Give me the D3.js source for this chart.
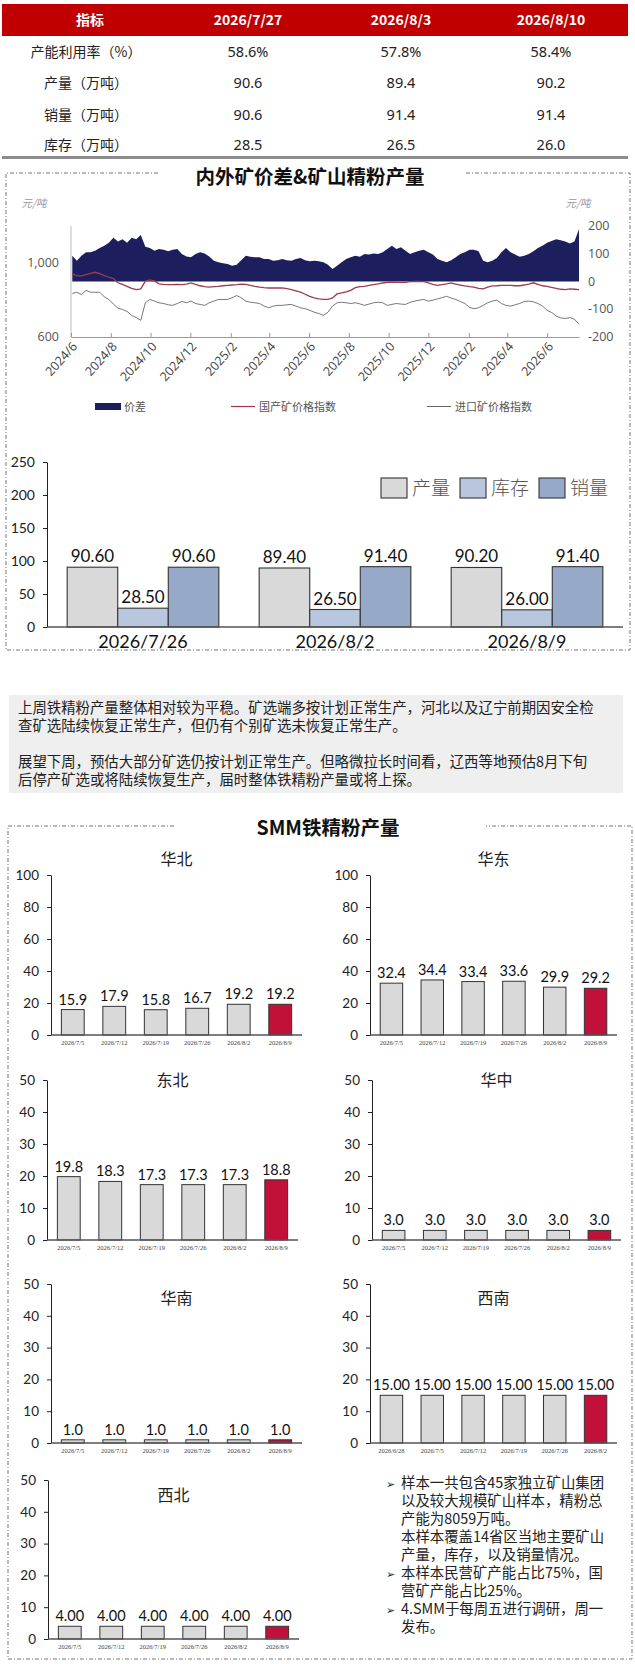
<!DOCTYPE html>
<html>
<head>
<meta charset="UTF-8" />
<script src="https://cdn.jsdelivr.net/npm/d3@7"></script>
<title>铁精粉周报</title>
<style>
  body { margin: 0; background: #fff; }
  svg { display: block; }
</style>
</head>
<body>
<svg id="page"></svg>
<script>
// ---- table ----
const tableHeader = ['指标', '2026/7/27', '2026/8/3', '2026/8/10'];
const tableRows = ['产能利用率（%）', '产量（万吨）', '销量（万吨）', '库存（万吨）'];
const capacityUse = ['58.6%', '57.8%', '58.4%'];
const outputWeek = [90.6, 89.4, 90.2];
const salesWeek = [90.6, 91.4, 91.4];
const stockWeek = [28.5, 26.5, 26.0];

// ---- spread chart, weekly from 2024-06-03 ----
const spreadStart = new Date(2024, 5, 3);
const spreadValues = [93, 75, 93, 105, 105, 111, 121, 129, 140, 158, 144, 152, 140, 158, 152, 168,
  125, 121, 111, 117, 114, 109, 114, 117, 99, 90, 87, 99, 105, 101, 90, 75, 69, 66, 63, 57, 60, 77,
  93, 89, 87, 87, 81, 81, 75, 77, 81, 77, 75, 81, 85, 77, 73, 75, 73, 69, 60, 45, 57, 69, 81, 87,
  93, 89, 99, 97, 101, 99, 105, 117, 129, 117, 123, 111, 99, 105, 111, 114, 105, 97, 81, 75, 69,
  77, 87, 99, 105, 114, 114, 109, 75, 69, 75, 85, 105, 121, 105, 97, 89, 93, 99, 109, 121, 129,
  140, 146, 152, 149, 144, 137, 144, 188];
const domesticIndex = [941, 930, 930, 937, 944, 950, 943, 932, 923, 916, 893, 884, 874, 863, 856,
  860, 902, 909, 903, 887, 884, 883, 883, 884, 883, 886, 892, 884, 877, 872, 870, 872, 874, 877,
  879, 881, 883, 886, 884, 879, 874, 870, 867, 865, 865, 865, 865, 861, 856, 849, 842, 831, 820,
  811, 806, 803, 803, 811, 833, 838, 844, 852, 867, 872, 874, 879, 883, 887, 892, 895, 897, 895,
  895, 895, 899, 900, 900, 899, 893, 884, 879, 883, 887, 892, 886, 881, 876, 872, 870, 863, 860,
  870, 876, 877, 879, 879, 879, 877, 877, 881, 886, 893, 884, 877, 874, 868, 863, 858, 856, 860,
  858, 856];
const importIndex = [835, 842, 829, 852, 842, 842, 842, 817, 803, 778, 756, 749, 738, 717, 705,
  690, 785, 803, 794, 785, 781, 774, 771, 781, 792, 785, 794, 781, 776, 771, 785, 794, 803, 803,
  803, 812, 824, 812, 794, 788, 785, 781, 767, 758, 767, 771, 771, 774, 776, 767, 758, 753, 745,
  734, 727, 717, 734, 767, 785, 788, 785, 781, 785, 779, 771, 778, 785, 788, 785, 771, 776, 781,
  778, 776, 788, 794, 799, 803, 794, 799, 806, 813, 820, 810, 803, 792, 781, 760, 753, 758, 771,
  785, 794, 799, 781, 771, 767, 774, 781, 792, 794, 790, 781, 767, 745, 732, 714, 703, 700, 705,
  696, 669];
const leftTicks = [600, 1000];
const rightTicks = [-200, -100, 0, 100, 200];
const spreadLegend = ['价差', '国产矿价格指数', '进口矿价格指数'];

// ---- weekly bar chart ----
const barDates = ['2026/7/26', '2026/8/2', '2026/8/9'];
const barSeries = ['产量', '库存', '销量'];
const barOutput = [90.6, 89.4, 90.2];
const barStock = [28.5, 26.5, 26.0];
const barSales = [90.6, 91.4, 91.4];

// ---- regional panels ----
const regionWeeks = ['2026/7/5', '2026/7/12', '2026/7/19', '2026/7/26', '2026/8/2', '2026/8/9'];
const southwestWeeks = ['2026/6/28', '2026/7/5', '2026/7/12', '2026/7/19', '2026/7/26', '2026/8/2'];
const huabei = [15.9, 17.9, 15.8, 16.7, 19.2, 19.2];
const huadong = [32.4, 34.4, 33.4, 33.6, 29.9, 29.2];
const dongbei = [19.8, 18.3, 17.3, 17.3, 17.3, 18.8];
const huazhong = [3.0, 3.0, 3.0, 3.0, 3.0, 3.0];
const huanan = [1.0, 1.0, 1.0, 1.0, 1.0, 1.0];
const xinan = [15, 15, 15, 15, 15, 15];
const xibei = [4, 4, 4, 4, 4, 4];

const commentLines = [
  '上周铁精粉产量整体相对较为平稳。矿选端多按计划正常生产，河北以及辽宁前期因安全检',
  '查矿选陆续恢复正常生产，但仍有个别矿选未恢复正常生产。',
  '',
  '展望下周，预估大部分矿选仍按计划正常生产。但略微拉长时间看，辽西等地预估8月下旬',
  '后停产矿选或将陆续恢复生产，届时整体铁精粉产量或将上探。'
];
const noteLines = [
  ['➢', '样本一共包含45家独立矿山集团'],
  ['', '以及较大规模矿山样本，精粉总'],
  ['', '产能为8059万吨。'],
  ['', '本样本覆盖14省区当地主要矿山'],
  ['', '产量，库存，以及销量情况。'],
  ['➢', '本样本民营矿产能占比75%，国'],
  ['', '营矿产能占比25%。'],
  ['➢', '4.SMM于每周五进行调研，周一'],
  ['', '发布。']
];

const CJK = '"Noto Sans CJK SC", "Noto Sans", sans-serif';
const NUM = 'Lato, "Noto Sans", sans-serif';
const svg = d3.select('#page').attr('width', 635).attr('height', 1664);

// ================= table =================
svg.append('rect').attr('x', 2).attr('y', 4).attr('width', 626).attr('height', 32).attr('fill', '#c00000');
const colX = [90, 248, 401, 551];
svg.selectAll('.th').data(tableHeader).enter().append('text')
  .attr('x', (d, i) => colX[i]).attr('y', 25).attr('text-anchor', 'middle')
  .attr('fill', '#fff').attr('font-weight', 'bold').attr('font-size', 14)
  .style('font-family', CJK).text(d => d);
const rowVals = [capacityUse, outputWeek.map(d => d.toFixed(1)), salesWeek.map(d => d.toFixed(1)), stockWeek.map(d => d.toFixed(1))];
const rowY = [57, 88, 120, 150];
tableRows.forEach((lab, r) => {
  svg.append('text').attr('x', 86).attr('y', rowY[r]).attr('text-anchor', 'middle')
    .attr('font-size', 14).attr('fill', '#222').style('font-family', CJK).text(lab);
  rowVals[r].forEach((v, c) => {
    svg.append('text').attr('x', colX[c + 1]).attr('y', rowY[r]).attr('text-anchor', 'middle')
      .attr('font-size', 14.5).attr('fill', '#222').style('font-family', '"Noto Sans", sans-serif').text(v);
  });
});
svg.append('rect').attr('x', 2).attr('y', 156).attr('width', 626).attr('height', 3).attr('fill', '#8c8c8c');

// dash-dot frames with the title cut into the top edge
function frame(x0, x1, y0, y1, gapL, gapR) {
  svg.append('path')
    .attr('d', `M${gapL},${y0}H${x0}V${y1}H${x1}V${y0}H${gapR}`)
    .attr('fill', 'none').attr('stroke', '#777').attr('stroke-width', 1)
    .attr('stroke-dasharray', '4,2,1,2');
}
frame(6, 630, 173, 650, 158, 466);
svg.append('text').attr('x', 310).attr('y', 184).attr('text-anchor', 'middle')
  .attr('font-size', 19.5).attr('font-weight', 'bold').attr('fill', '#111')
  .style('font-family', CJK).text('内外矿价差&矿山精粉产量');

// ================= spread chart =================
const spreadDates = spreadValues.map((_, i) => d3.timeWeek.offset(spreadStart, i));
const xT = d3.scaleTime().domain([new Date(2024, 5, 1), new Date(2026, 6, 20)]).range([71, 579]);
const yL = d3.scaleLinear().domain([600, 1200]).range([337, 226]);
const yR = d3.scaleLinear().domain([-200, 200]).range([337, 226]);

svg.append('path').datum(spreadValues)
  .attr('d', d3.area().x((d, i) => xT(spreadDates[i])).y0(yR(0)).y1(d => yR(d)))
  .attr('fill', '#1d1e5d');
svg.append('path').datum(domesticIndex)
  .attr('d', d3.line().x((d, i) => xT(spreadDates[i])).y(d => yL(d)))
  .attr('fill', 'none').attr('stroke', '#9b3c4c').attr('stroke-width', 1.3);
svg.append('path').datum(importIndex)
  .attr('d', d3.line().x((d, i) => xT(spreadDates[i])).y(d => yL(d)))
  .attr('fill', 'none').attr('stroke', '#555').attr('stroke-width', 0.8);

svg.append('line').attr('x1', 71).attr('x2', 71).attr('y1', 226).attr('y2', 337).attr('stroke', '#aaa').attr('stroke-width', 0.8);
const xAx = svg.append('g').attr('transform', 'translate(0,337)')
  .call(d3.axisBottom(xT)
    .tickValues(d3.timeMonth.range(new Date(2024, 5, 1), new Date(2026, 6, 2), 2))
    .tickFormat(d3.timeFormat('%Y/%-m')).tickSizeInner(-4).tickSizeOuter(0));
xAx.select('.domain').attr('stroke', '#999');
xAx.selectAll('.tick line').attr('stroke', '#999');
xAx.selectAll('text').attr('text-anchor', 'end').attr('x', -3).attr('y', 7).attr('dy', '0.35em')
  .attr('transform', 'rotate(-48)').attr('font-size', 12.5).attr('fill', '#444').style('font-family', '"Open Sans", sans-serif');

svg.selectAll('.lt').data(leftTicks).enter().append('text')
  .attr('x', 59).attr('y', d => yL(d) + 4).attr('text-anchor', 'end')
  .attr('font-size', 12.5).attr('fill', '#555').style('font-family', '"Open Sans", sans-serif')
  .text(d3.format(','));
svg.selectAll('.rt').data(rightTicks).enter().append('text')
  .attr('x', 588).attr('y', d => yR(d) + 4)
  .attr('font-size', 12.5).attr('fill', '#555').style('font-family', '"Open Sans", sans-serif')
  .text(d => d);
svg.append('text').attr('x', 34).attr('y', 207).attr('text-anchor', 'middle').attr('font-size', 10.5)
  .attr('font-style', 'italic').attr('fill', '#999').style('font-family', CJK).text('元/吨');
svg.append('text').attr('x', 578).attr('y', 207).attr('text-anchor', 'middle').attr('font-size', 10.5)
  .attr('font-style', 'italic').attr('fill', '#999').style('font-family', CJK).text('元/吨');

// legend
svg.append('rect').attr('x', 95).attr('y', 403).attr('width', 26).attr('height', 7).attr('fill', '#1d1e5d');
svg.append('line').attr('x1', 231).attr('x2', 255).attr('y1', 406.5).attr('y2', 406.5).attr('stroke', '#9b3c4c').attr('stroke-width', 1.2);
svg.append('line').attr('x1', 427).attr('x2', 451).attr('y1', 406.5).attr('y2', 406.5).attr('stroke', '#666').attr('stroke-width', 1);
svg.selectAll('.sl').data(spreadLegend).enter().append('text')
  .attr('x', (d, i) => [124, 259, 455][i]).attr('y', 411)
  .attr('font-size', 11).attr('fill', '#555').style('font-family', CJK).text(d => d);

// ================= weekly bars =================
const barFill = ['#d9d9d9', '#b9c7de', '#97a9c9'];
const barVals = [barOutput, barStock, barSales];
const xB = d3.scaleBand().domain(barDates).range([47, 623]).paddingInner(0.21).paddingOuter(0.105);
const xS = d3.scaleBand().domain(barSeries).range([0, xB.bandwidth()]);
const yB = d3.scaleLinear().domain([0, 250]).range([627, 462]);

const yAxB = svg.append('g').attr('transform', 'translate(47,0)')
  .call(d3.axisLeft(yB).tickValues([0, 50, 100, 150, 200, 250]).tickSizeInner(4).tickSizeOuter(0).tickPadding(8));
yAxB.select('.domain').attr('stroke', '#222');
yAxB.selectAll('.tick line').attr('stroke', '#222');
yAxB.selectAll('text').attr('font-size', 14).attr('fill', '#222').style('font-family', NUM);

barDates.forEach((d, gi) => {
  barSeries.forEach((s, si) => {
    const v = barVals[si][gi];
    svg.append('rect').attr('x', xB(d) + xS(s)).attr('y', yB(v))
      .attr('width', xS.bandwidth()).attr('height', yB(0) - yB(v))
      .attr('fill', barFill[si]).attr('stroke', '#333').attr('stroke-width', 1.1);
    svg.append('text').attr('x', xB(d) + xS(s) + xS.bandwidth() / 2).attr('y', yB(v) - 5)
      .attr('text-anchor', 'middle').attr('font-size', 17).attr('fill', '#111')
      .style('font-family', NUM).text(v.toFixed(2));
  });
});
svg.append('line').attr('x1', 47).attr('x2', 623).attr('y1', 627).attr('y2', 627).attr('stroke', '#555').attr('stroke-width', 1.5);
svg.selectAll('.bx').data(barDates).enter().append('text')
  .attr('x', d => xB(d) + xB.bandwidth() / 2).attr('y', 648).attr('text-anchor', 'middle')
  .attr('font-size', 18).attr('fill', '#111').style('font-family', NUM).text(d => d);

// legend
const legX = [381, 460, 539];
barSeries.forEach((s, i) => {
  svg.append('rect').attr('x', legX[i]).attr('y', 478).attr('width', 26).attr('height', 20)
    .attr('fill', barFill[i]).attr('stroke', '#333').attr('stroke-width', 1.1);
  svg.append('text').attr('x', legX[i] + 31).attr('y', 495).attr('font-size', 19)
    .attr('font-weight', 300).attr('fill', '#555').style('font-family', CJK).text(s);
});

// ================= comment box =================
svg.append('rect').attr('x', 9).attr('y', 695).attr('width', 614).attr('height', 98).attr('fill', '#efefef');
svg.selectAll('.cm').data(commentLines).enter().append('text')
  .attr('x', 18).attr('y', (d, i) => 713 + i * 18).attr('font-size', 14.4)
  .attr('fill', '#222').style('font-family', CJK).text(d => d);

// ================= SMM regional panels =================
frame(8, 632, 826, 1659, 174, 486);
svg.append('text').attr('x', 328).attr('y', 835).attr('text-anchor', 'middle')
  .attr('font-size', 19.5).attr('font-weight', 'bold').attr('fill', '#111')
  .style('font-family', CJK).text('SMM铁精粉产量');

const panels = [
  { name: '华北', cats: regionWeeks, vals: huabei, dec: 1, ax: 51, end: 302, top: 875, bottom: 1035, max: 100, step: 20, ty: 865 },
  { name: '华东', cats: regionWeeks, vals: huadong, dec: 1, ax: 370, end: 617, top: 875, bottom: 1035, max: 100, step: 20, ty: 865 },
  { name: '东北', cats: regionWeeks, vals: dongbei, dec: 1, ax: 47, end: 298, top: 1080, bottom: 1240, max: 50, step: 10, ty: 1086 },
  { name: '华中', cats: regionWeeks, vals: huazhong, dec: 1, ax: 372, end: 621, top: 1080, bottom: 1240, max: 50, step: 10, ty: 1086 },
  { name: '华南', cats: regionWeeks, vals: huanan, dec: 1, ax: 51, end: 302, top: 1284, bottom: 1443, max: 50, step: 10, ty: 1304 },
  { name: '西南', cats: southwestWeeks, vals: xinan, dec: 2, ax: 370, end: 617, top: 1284, bottom: 1443, max: 50, step: 10, ty: 1304 },
  { name: '西北', cats: regionWeeks, vals: xibei, dec: 2, ax: 48, end: 299, top: 1480, bottom: 1639, max: 50, step: 10, ty: 1501 }
];

panels.forEach(p => {
  const x = d3.scaleBand().domain(p.cats).range([p.ax, p.end]).paddingInner(0.45).paddingOuter(0.25);
  const y = d3.scaleLinear().domain([0, p.max]).range([p.bottom, p.top]);
  const g = svg.append('g');
  const ya = g.append('g').attr('transform', `translate(${p.ax},0)`)
    .call(d3.axisLeft(y).tickValues(d3.range(0, p.max + 1, p.step)).tickSizeInner(4).tickSizeOuter(0).tickPadding(8));
  ya.select('.domain').attr('stroke', '#222');
  ya.selectAll('.tick line').attr('stroke', '#222');
  ya.selectAll('text').attr('font-size', 13.5).attr('fill', '#222').style('font-family', NUM);

  g.selectAll('rect').data(p.vals).enter().append('rect')
    .attr('x', (d, i) => x(p.cats[i])).attr('y', d => y(d))
    .attr('width', x.bandwidth()).attr('height', d => y(0) - y(d))
    .attr('fill', (d, i) => i === p.vals.length - 1 ? '#c1113a' : '#d9d9d9')
    .attr('stroke', '#333').attr('stroke-width', 1);
  g.selectAll('.v').data(p.vals).enter().append('text')
    .attr('x', (d, i) => x(p.cats[i]) + x.bandwidth() / 2).attr('y', d => y(d) - 5)
    .attr('text-anchor', 'middle').attr('font-size', 14.5).attr('fill', '#111')
    .style('font-family', NUM).text(d => d.toFixed(p.dec));

  g.append('line').attr('x1', p.ax).attr('x2', p.end).attr('y1', p.bottom).attr('y2', p.bottom)
    .attr('stroke', '#555').attr('stroke-width', 1.3);
  g.selectAll('.c').data(p.cats).enter().append('text')
    .attr('x', d => x(d) + x.bandwidth() / 2).attr('y', p.bottom + 10).attr('text-anchor', 'middle')
    .attr('font-size', 6.5).attr('fill', '#444').style('font-family', '"Liberation Serif", serif').text(d => d);
  g.append('text').attr('x', (p.ax + p.end) / 2).attr('y', p.ty).attr('text-anchor', 'middle')
    .attr('font-size', 16).attr('fill', '#222').style('font-family', CJK).text(p.name);
});

// notes next to 西北
noteLines.forEach((ln, i) => {
  const yy = 1488 + i * 18;
  if (ln[0]) svg.append('text').attr('x', 386).attr('y', yy).attr('font-size', 11).attr('fill', '#222')
    .style('font-family', '"DejaVu Sans", sans-serif').text(ln[0]);
  svg.append('text').attr('x', 401).attr('y', yy).attr('font-size', 14.4).attr('fill', '#222')
    .style('font-family', CJK).text(ln[1]);
});
</script>
</body>
</html>
